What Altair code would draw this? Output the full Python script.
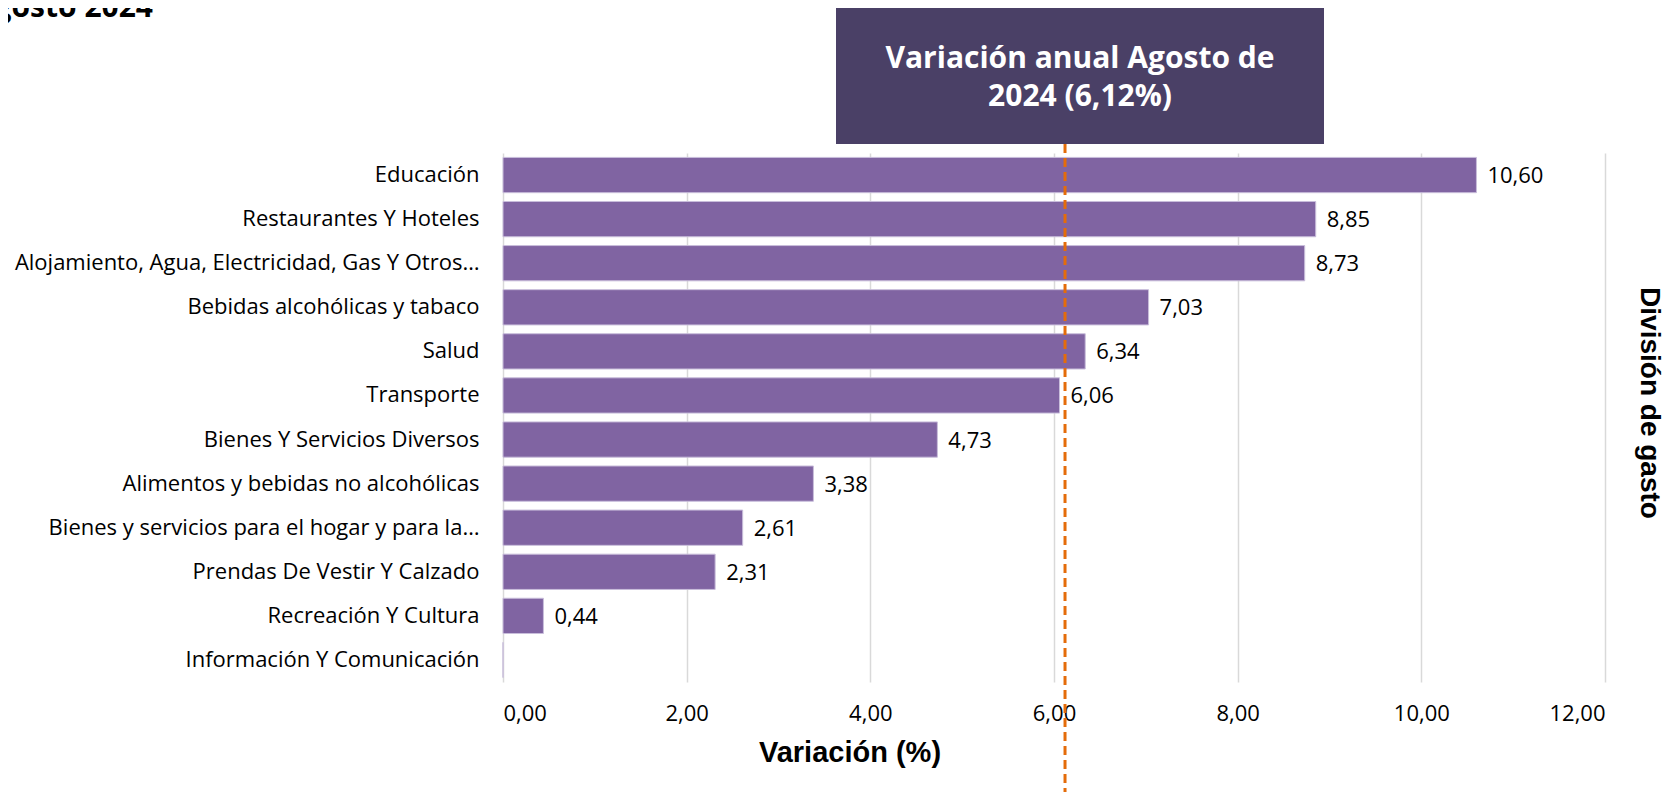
import altair as alt
import pandas as pd

categorias = [
    "Educación",
    "Restaurantes Y Hoteles",
    "Alojamiento, Agua, Electricidad, Gas Y Otros…",
    "Bebidas alcohólicas y tabaco",
    "Salud",
    "Transporte",
    "Bienes Y Servicios Diversos",
    "Alimentos y bebidas no alcohólicas",
    "Bienes y servicios para el hogar y para la…",
    "Prendas De Vestir Y Calzado",
    "Recreación Y Cultura",
    "Información Y Comunicación",
]
valores = [10.60, 8.85, 8.73, 7.03, 6.34, 6.06, 4.73, 3.38, 2.61, 2.31, 0.44, 0.00]
ticks_x = [0, 2, 4, 6, 8, 10, 12]
variacion_total = 6.12
titulo = "Agosto 2024"
anotacion_lineas = ["Variación anual Agosto de", "2024 (6,12%)"]
eje_x_titulo = "Variación (%)"
eje_y_titulo = "División de gasto"

df = pd.DataFrame({"division": categorias, "valor": valores})

W, H = 1102, 529
FONT = "Open Sans"

base = alt.Chart(df)

y_enc = alt.Y(
    "division:N",
    sort=categorias,
    scale=alt.Scale(paddingInner=0.2, paddingOuter=0.1),
    axis=alt.Axis(
        title=None, labelFont=FONT, labelFontSize=22, labelColor="#000000",
        labelPadding=24, ticks=False, domain=False, labelLimit=700,
    ),
)
x_enc = alt.X(
    "valor:Q",
    scale=alt.Scale(domain=[0, 12], nice=False),
    axis=alt.Axis(
        values=ticks_x,
        labelExpr="replace(format(datum.value, '.2f'), '.', ',')",
        title=None,
        labelFont=FONT, labelFontSize=22, labelColor="#000000", labelPadding=21,
        grid=True, gridColor="#D9D9D9", gridWidth=1.5, domain=False, ticks=False,
    ),
)

bars = base.mark_bar(color="#8064A2", stroke="#C9BEDB", strokeWidth=1).encode(
    y=y_enc, x=x_enc
)

labels = base.transform_filter("datum.valor > 0").transform_calculate(
    etiqueta="replace(format(datum.valor, '.2f'), '.', ',')"
).mark_text(
    align="left", baseline="middle", dx=11, dy=1, font=FONT, fontSize=22, color="#000000"
).encode(
    y=alt.Y("division:N", sort=categorias), x="valor:Q", text="etiqueta:N"
)

rule = alt.Chart(pd.DataFrame({"v": [variacion_total]})).mark_rule(
    color="#E46C0A", strokeWidth=3, strokeDash=[9, 5]
).encode(x="v:Q", y=alt.value(-9), y2=alt.value(H + 110))

box = alt.Chart(pd.DataFrame({"a": [1]})).mark_rect(color="#4A4066").encode(
    x=alt.value(333), x2=alt.value(821), y=alt.value(-145), y2=alt.value(-9)
)

box_text = alt.Chart(pd.DataFrame({"a": [1]})).mark_text(
    align="center", baseline="middle", font=FONT, fontSize=30, fontWeight="bold",
    color="#FFFFFF", lineHeight=38,
).encode(x=alt.value(577), y=alt.value(-94), text=alt.value(anotacion_lineas))

title_text = alt.Chart(pd.DataFrame({"a": [1]})).mark_text(
    align="right", baseline="alphabetic", font=FONT, fontSize=30, fontWeight="bold",
    color="#000000",
).encode(x=alt.value(-350), y=alt.value(-136), text=alt.value(titulo))

x_title = alt.Chart(pd.DataFrame({"a": [1]})).mark_text(
    align="center", baseline="middle", font="Liberation Sans", fontSize=29,
    fontWeight="bold", color="#000000",
).encode(x=alt.value(347), y=alt.value(600), text=alt.value(eje_x_titulo))

right_title = alt.Chart(pd.DataFrame({"a": [1]})).mark_text(
    align="center", baseline="middle", font="Liberation Sans", fontSize=28,
    fontWeight="bold", color="#000000", angle=90,
).encode(x=alt.value(1146), y=alt.value(250), text=alt.value(eje_y_titulo))

chart = alt.layer(
    bars, labels, rule, box, box_text, title_text, x_title, right_title
).properties(
    width=W, height=H,
    padding={"left": 495, "top": 145, "right": 64, "bottom": 110},
    autosize=alt.AutoSizeParams(type="none"),
).configure_view(stroke=None)

chart.save("out.html", embed_options={"renderer": "svg", "actions": False})
